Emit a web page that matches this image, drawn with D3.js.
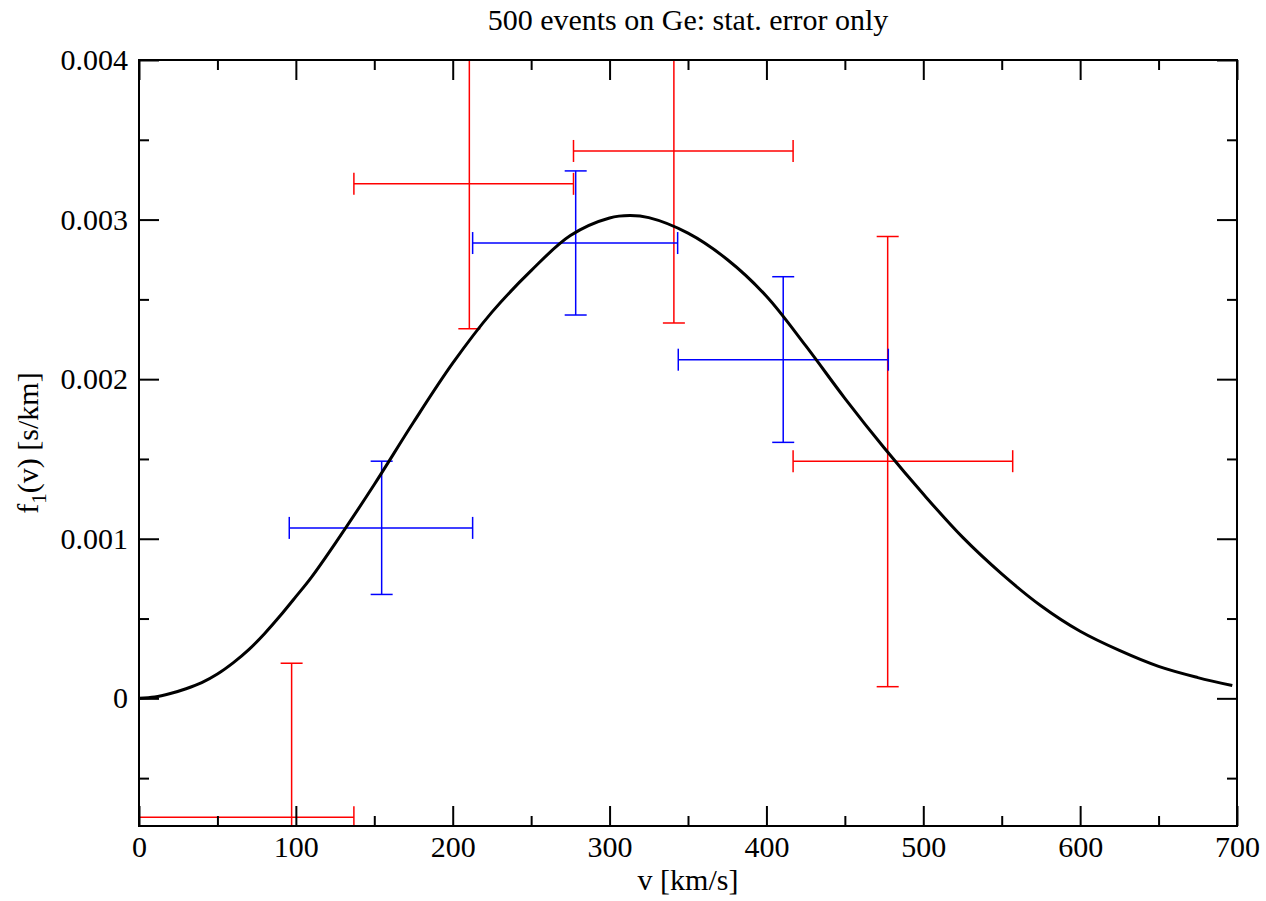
<!DOCTYPE html>
<html>
<head>
<meta charset="utf-8">
<script src="https://cdn.jsdelivr.net/npm/d3@7"></script>
<style>
  body { margin: 0; background: #fff; }
  text { font-family: "Liberation Serif", "DejaVu Serif", serif; }
</style>
</head>
<body>
<svg></svg>
<script>
// canvas size and plot box
var width = 1266;
var height = 901;
var boxLeft = 139, boxRight = 1237, boxTop = 60, boxBottom = 826;

// axis ticks
var xMajor = [0, 100, 200, 300, 400, 500, 600, 700];
var xMinor = [50, 150, 250, 350, 450, 550, 650];
var yMajor = [0, 0.001, 0.002, 0.003, 0.004];
var yMinor = [-0.0005, 0.0005, 0.0015, 0.0025, 0.0035];
var yTickLabels = ["0", "0.001", "0.002", "0.003", "0.004"];

// theory curve
var curveV = [0, 10, 20, 30, 40, 50, 60, 70, 80, 90, 100, 110, 125, 150, 175, 200, 225, 250, 275, 300, 313, 325, 350, 375, 400, 425, 450, 475, 500, 525, 550, 575, 600, 625, 650, 675, 697];
var curveF = [0, 0.000008, 0.00003, 0.00006, 0.000098, 0.000152, 0.000222, 0.000305, 0.000405, 0.000517, 0.000637, 0.00076, 0.00097, 0.00134, 0.00173, 0.0021, 0.00242, 0.00268, 0.0029, 0.00301, 0.003025, 0.003012, 0.002915, 0.00275, 0.00252, 0.00221, 0.00188, 0.00157, 0.00128, 0.00101, 0.00078, 0.00058, 0.00042, 0.0003, 0.0002, 0.00013, 0.00008];

// red points (with x and y errors)
var redV    = [97.3, 210.6, 341.0, 477.3];
var redF    = [-0.000745, 0.003224, 0.00343, 0.001486];
var redVLo  = [0, 137, 277, 417];
var redVHi  = [137, 277, 417, 557];
var redFLo  = [-0.00171, 0.002316, 0.002352, 0.000073];
var redFHi  = [0.00022, 0.00413, 0.00451, 0.002894];

// blue points
var blueV   = [154.7, 278.4, 410.7];
var blueF   = [0.001068, 0.002853, 0.002122];
var blueVLo = [95.8, 212.7, 343.8];
var blueVHi = [212.7, 343.4, 477.7];
var blueFLo = [0.000651, 0.002402, 0.001604];
var blueFHi = [0.001486, 0.003305, 0.002642];

var x = d3.scaleLinear().domain([0, 700]).range([boxLeft, boxRight]);
var y = d3.scaleLinear().domain([-0.0008, 0.004]).range([boxBottom, boxTop]);

var svg = d3.select("svg")
    .attr("width", width)
    .attr("height", height);

svg.append("defs").append("clipPath")
    .attr("id", "plotclip")
  .append("rect")
    .attr("x", boxLeft)
    .attr("y", boxTop)
    .attr("width", boxRight - boxLeft)
    .attr("height", boxBottom - boxTop);

var plot = svg.append("g").attr("clip-path", "url(#plotclip)");

// build error bar rows from the arrays
function rows(v, f, vlo, vhi, flo, fhi) {
    return v.map(function(d, i) {
        return { v: d, f: f[i], vlo: vlo[i], vhi: vhi[i], flo: flo[i], fhi: fhi[i] };
    });
}

var cap = 11;

function drawErrors(data, color) {
    var g = plot.append("g")
        .attr("stroke", color)
        .attr("stroke-width", 1.5)
        .attr("fill", "none");
    var pts = g.selectAll("g").data(data).enter().append("g");
    // horizontal bar
    pts.append("line")
        .attr("x1", function(d) { return x(d.vlo); })
        .attr("x2", function(d) { return x(d.vhi); })
        .attr("y1", function(d) { return y(d.f); })
        .attr("y2", function(d) { return y(d.f); });
    // vertical bar
    pts.append("line")
        .attr("x1", function(d) { return x(d.v); })
        .attr("x2", function(d) { return x(d.v); })
        .attr("y1", function(d) { return y(d.flo); })
        .attr("y2", function(d) { return y(d.fhi); });
    // caps
    ["vlo", "vhi"].forEach(function(k) {
        pts.append("line")
            .attr("x1", function(d) { return x(d[k]); })
            .attr("x2", function(d) { return x(d[k]); })
            .attr("y1", function(d) { return y(d.f) - cap; })
            .attr("y2", function(d) { return y(d.f) + cap; });
    });
    ["flo", "fhi"].forEach(function(k) {
        pts.append("line")
            .attr("x1", function(d) { return x(d.v) - cap; })
            .attr("x2", function(d) { return x(d.v) + cap; })
            .attr("y1", function(d) { return y(d[k]); })
            .attr("y2", function(d) { return y(d[k]); });
    });
}

drawErrors(rows(redV, redF, redVLo, redVHi, redFLo, redFHi), "#ff0000");
drawErrors(rows(blueV, blueF, blueVLo, blueVHi, blueFLo, blueFHi), "#0000ff");

// the curve
var line = d3.line()
    .x(function(d, i) { return x(curveV[i]); })
    .y(function(d) { return y(d); })
    .curve(d3.curveCatmullRom.alpha(0.5));

plot.append("path")
    .datum(curveF)
    .attr("d", line)
    .attr("fill", "none")
    .attr("stroke", "#000")
    .attr("stroke-width", 3);

// axes, ticks point inwards on all four sides
function styleAxis(g) {
    g.select(".domain").remove();
    g.selectAll(".tick line").attr("stroke", "#000").attr("stroke-width", 2);
    g.selectAll("text").style("font-family", "Liberation Serif").style("font-size", "30px").attr("fill", "#000");
}

svg.append("g").attr("transform", "translate(0," + boxBottom + ")")
    .call(d3.axisBottom(x).tickValues(xMajor).tickSize(-20).tickPadding(10))
    .call(styleAxis);
svg.append("g").attr("transform", "translate(0," + boxBottom + ")")
    .call(d3.axisBottom(x).tickValues(xMinor).tickSize(-10).tickFormat(""))
    .call(styleAxis);
svg.append("g").attr("transform", "translate(0," + boxTop + ")")
    .call(d3.axisTop(x).tickValues(xMajor).tickSize(-20).tickFormat(""))
    .call(styleAxis);
svg.append("g").attr("transform", "translate(0," + boxTop + ")")
    .call(d3.axisTop(x).tickValues(xMinor).tickSize(-10).tickFormat(""))
    .call(styleAxis);

svg.append("g").attr("transform", "translate(" + boxLeft + ",0)")
    .call(d3.axisLeft(y).tickValues(yMajor).tickSize(-20).tickPadding(11)
        .tickFormat(function(d, i) { return yTickLabels[i]; }))
    .call(styleAxis);
svg.append("g").attr("transform", "translate(" + boxLeft + ",0)")
    .call(d3.axisLeft(y).tickValues(yMinor).tickSize(-10).tickFormat(""))
    .call(styleAxis);
svg.append("g").attr("transform", "translate(" + boxRight + ",0)")
    .call(d3.axisRight(y).tickValues(yMajor).tickSize(-20).tickFormat(""))
    .call(styleAxis);
svg.append("g").attr("transform", "translate(" + boxRight + ",0)")
    .call(d3.axisRight(y).tickValues(yMinor).tickSize(-10).tickFormat(""))
    .call(styleAxis);

// frame
svg.append("rect")
    .attr("x", boxLeft)
    .attr("y", boxTop)
    .attr("width", boxRight - boxLeft)
    .attr("height", boxBottom - boxTop)
    .attr("fill", "none")
    .attr("stroke", "#000")
    .attr("stroke-width", 2);

// title and axis labels
svg.append("text")
    .attr("x", (boxLeft + boxRight) / 2)
    .attr("y", 30)
    .attr("text-anchor", "middle")
    .style("font-size", "30px")
    .text("500 events on Ge: stat. error only");

svg.append("text")
    .attr("x", (boxLeft + boxRight) / 2)
    .attr("y", 890)
    .attr("text-anchor", "middle")
    .style("font-size", "30px")
    .text("v [km/s]");

var ylab = svg.append("text")
    .attr("transform", "translate(38,443) rotate(-90)")
    .attr("text-anchor", "middle")
    .style("font-size", "30px");
ylab.append("tspan").text("f");
ylab.append("tspan").attr("dy", 8).style("font-size", "21px").text("1");
ylab.append("tspan").attr("dy", -8).text("(v) [s/km]");
</script>
</body>
</html>
